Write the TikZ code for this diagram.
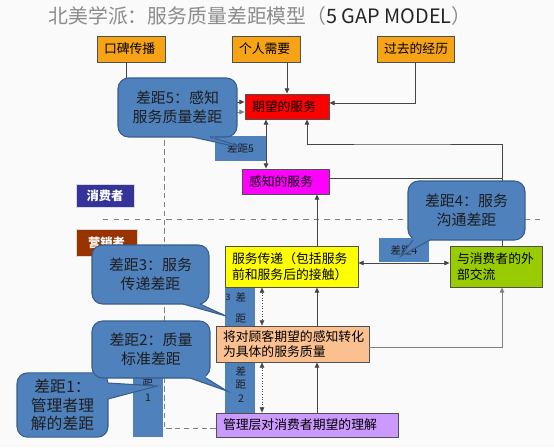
\documentclass[tikz,border=0pt]{standalone}
\usepackage{fontspec}
\setmainfont{Noto Sans CJK SC}
\usetikzlibrary{arrows.meta}
\definecolor{pagebg}{RGB}{250,250,250}
\definecolor{titlegray}{RGB}{140,140,140}
\definecolor{titledark}{RGB}{38,38,38}
\definecolor{boxedge}{RGB}{80,80,80}
\definecolor{lineink}{RGB}{70,70,70}
\definecolor{orangebox}{RGB}{247,163,22}
\definecolor{expectred}{RGB}{255,0,0}
\definecolor{perceivepink}{RGB}{255,0,255}
\definecolor{deliveryellow}{RGB}{255,255,0}
\definecolor{commgreen}{RGB}{153,204,0}
\definecolor{specpeach}{RGB}{250,192,143}
\definecolor{mgmtlilac}{RGB}{204,153,255}
\definecolor{gapblue}{RGB}{79,129,189}
\definecolor{bubbleedge}{RGB}{56,93,138}
\definecolor{bubbleink}{RGB}{30,30,30}
\definecolor{consumerblue}{RGB}{51,51,153}
\definecolor{marketerbrown}{RGB}{153,51,0}

\begin{document}
\begin{tikzpicture}[x=0.02cm,y=-0.02cm,>={Triangle[length=3pt,width=2.6pt]},
  box/.style={draw=boxedge,line width=0.5pt,inner xsep=0.14cm,inner ysep=1pt,
    align=left,font=\fontsize{7.3}{8.8}\selectfont},
  rolebox/.style={draw=white!70!gray,line width=0.4pt,text=white,
    font=\bfseries\fontsize{7}{8}\selectfont},
  gaptag/.style={fill=gapblue,text=bubbleink,font=\fontsize{6}{7}\selectfont},
  gapchar/.style={inner sep=0pt,text=bubbleink,font=\fontsize{6}{7}\selectfont},
  bubble/.style={draw=bubbleedge,fill=gapblue,line width=0.6pt,rounded corners=6pt,
    align=center,text=bubbleink,font=\fontsize{8.5}{10.8}\selectfont},
  conn/.style={draw=lineink,line width=0.5pt},
  tailedge/.style={draw=bubbleedge,line width=0.6pt}]

\useasboundingbox (0,0) rectangle (554,447);
\fill[pagebg] (0,0) rectangle (554,447);

% title
\node (title) at (260,16) {\fontsize{11.3}{13}\selectfont\color{titlegray}北美学派：服务质量差距模型（\textcolor{titledark}{5 GAP MODEL}）};

% consumer / marketer split
\draw[gray,dashed,line width=0.4pt] (103,219) -- (542,219);
\node[rolebox,fill=consumerblue,minimum width=1.16cm,minimum height=0.4cm] (consumer) at (105,196) {消费者};
\node[rolebox,fill=marketerbrown,minimum width=1.22cm,minimum height=0.54cm] (marketer) at (106.5,242.5) {营销者};

% gap strips
\fill[gapblue] (225,287) rectangle (255,413);
\fill[gapblue] (133,350) rectangle (163,437);

% boxes
\node[box,fill=orangebox,text width=1.08cm,minimum height=0.52cm] (word) at (131,49) {口碑传播};
\node[box,fill=orangebox,text width=1.08cm,minimum height=0.52cm] (needs) at (266,49) {个人需要};
\node[box,fill=orangebox,text width=1.26cm,minimum height=0.52cm] (past) at (415.5,49) {过去的经历};
\node[box,fill=expectred,text width=1.40cm,minimum height=0.5cm] (expect) at (287,106.5) {期望的服务};
\node[box,fill=perceivepink,text width=1.46cm,minimum height=0.5cm] (perceive) at (285.5,181.5) {感知的服务};
\node[box,fill=deliveryellow,text width=2.38cm,minimum height=0.82cm] (deliver) at (291.5,266.5) {服务传递（包括服务\\前和服务后的接触）};
\node[box,fill=commgreen,text width=1.56cm,minimum height=0.82cm] (extcomm) at (496,266.5) {与消费者的外\\部交流};
\node[box,fill=specpeach,text width=2.78cm,minimum height=0.72cm] (translate) at (292.5,344) {将对顾客期望的感知转化\\为具体的服务质量};
\node[box,fill=mgmtlilac,text width=3.36cm,minimum height=0.48cm] (mgmt) at (307,425) {管理层对消费者期望的理解};

% gap tags
\node[gaptag,minimum width=1.02cm,minimum height=0.5cm] (gapfive) at (240.5,148.5) {差距5};
\node[gaptag,minimum width=1.0cm,minimum height=0.48cm] (gapfour) at (404,250) {差距4};
\node[gapchar,font=\fontsize{5}{6}\selectfont] (gthreea) at (228,297) {3};
\node[gapchar] (gthreeb) at (241,297) {差};
\node[gapchar] (gthreec) at (241,319) {距};
\node[gapchar] (gtwoa) at (241,371) {差};
\node[gapchar] (gtwob) at (241,385) {距};
\node[gapchar] (gtwoc) at (241,399) {2};
\node[gapchar] (gonea) at (148,382) {距};
\node[gapchar] (goneb) at (148,398) {1};

% connectors
\coordinate (gapbend) at (164,112);
\coordinate (commturn) at (400,144);
\coordinate (commrise) at ([xshift=0.12cm]extcomm.north);
\coordinate (seen) at ([yshift=0.07cm]perceive.east);
\coordinate (sidex) at ([xshift=-0.42cm]expect.south);
\coordinate (upx) at ([xshift=0.51cm]deliver.south);
\coordinate (gapx) at ([xshift=-0.59cm]deliver.south);
\coordinate (talk) at ([yshift=0.07cm]deliver.east);
\draw[conn,->] ([xshift=-0.1cm]word.south) |- ([yshift=0.09cm]expect.west);
\draw[conn,->] (needs.south -| expect.north) -- (expect.north);
\draw[conn,->] (past.south) |- ([yshift=0.07cm]expect.east);
\draw[conn,->,draw=gray,densely dashed] ([yshift=-0.06cm]mgmt.west) -| (gapbend) -- (gapbend -| expect.west);
\draw[conn,<->] (sidex) -- (sidex |- perceive.north);
\draw[conn,->] (commrise) |- (commturn) -| ([xshift=0.4cm]expect.south);
\draw[conn] (seen) -- (seen -| commrise);
\draw[conn,->] ([xshift=0.51cm]deliver.north) -- (upx |- perceive.south);
\draw[conn,<->] (talk) -- (talk -| extcomm.west);
\draw[conn,->] (upx |- translate.north) -- (upx);
\draw[conn,->] (upx |- mgmt.north) -- (upx |- translate.south);
\draw[conn,<->,densely dotted,line width=0.35pt] (gapx) -- (gapx |- translate.north);
\draw[conn,<->,densely dotted,line width=0.35pt] (gapx |- translate.south) -- (gapx |- mgmt.north);
\draw[conn,->,draw=gray] ([yshift=-0.06cm]translate.east) -| (commrise |- extcomm.south);

% callouts
\node[bubble,minimum width=2.38cm,minimum height=1.18cm] (bubblefive) at (177.5,107.5) {差距5：感知\\服务质量差距};
\fill[gapblue] (192,134) -- (192,137) -- (252,150) -- (210,137) -- (210,134) -- cycle;
\draw[tailedge] (192,137) -- (252,150) -- (210,137);

\node[bubble,minimum width=2.34cm,minimum height=1.18cm] (bubblefour) at (466.5,210.5) {差距4：服务\\沟通差距};
\fill[gapblue] (413,237) -- (413,240) -- (401,256) -- (430,240) -- (430,237) -- cycle;
\draw[tailedge] (413,240) -- (401,256) -- (430,240);

\node[bubble,minimum width=2.34cm,minimum height=1.18cm] (bubblethree) at (150.5,274.5) {差距3：服务\\传递差距};
\fill[gapblue] (183,301) -- (183,304) -- (226,316) -- (200,304) -- (200,301) -- cycle;
\draw[tailedge] (183,304) -- (226,316) -- (200,304);

\node[bubble,minimum width=1.82cm,minimum height=1.28cm,font=\fontsize{9}{10.8}\selectfont] (bubbleone) at (62.5,405) {差距1：\\管理者理\\解的差距};
\fill[gapblue] (104,383) -- (108,383) -- (157,386) -- (108,399) -- (104,399) -- cycle;
\draw[tailedge] (108,383) -- (157,386) -- (108,399);

\node[bubble,minimum width=2.36cm,minimum height=1.14cm] (bubbletwo) at (151,349.5) {差距2：质量\\标准差距};
\fill[gapblue] (190,375) -- (190,378) -- (227,391) -- (206,378) -- (206,375) -- cycle;
\draw[tailedge] (190,378) -- (227,391) -- (206,378);
\end{tikzpicture}
\end{document}
